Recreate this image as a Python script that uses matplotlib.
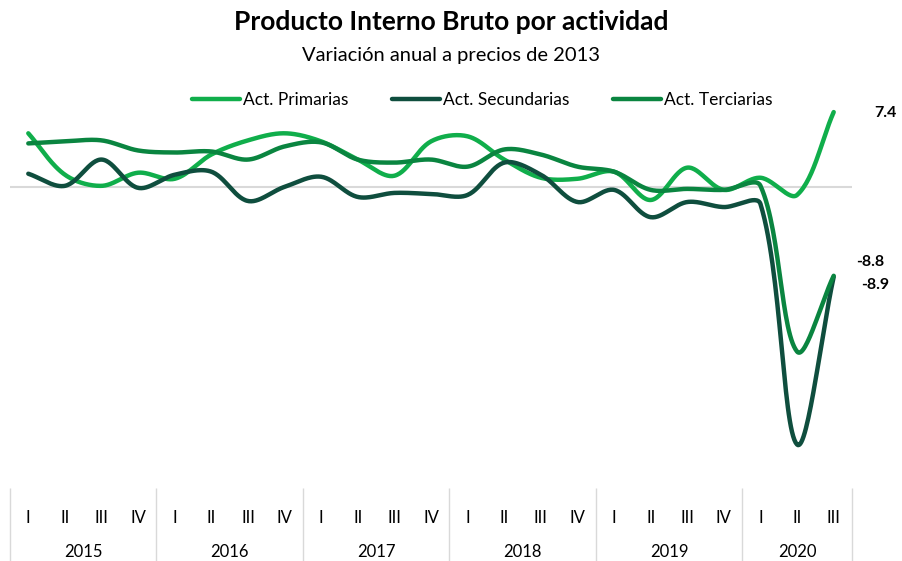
"""PIB por actividad: variación anual a precios de 2013 (2015 - 2020)."""

import matplotlib

matplotlib.use("Agg")
import matplotlib.pyplot as plt
import numpy as np

YEARS = ["2015", "2016", "2017", "2018", "2019", "2020"]
QUARTERS = ["I", "II", "III", "IV"] * 5 + ["I", "II", "III"]

primarias = [5.3, 1.2, 0.1, 1.4, 0.8, 3.2, 4.6, 5.3, 4.5, 2.7, 1.1, 4.5,
             5.0, 2.7, 0.9, 0.8, 1.5, -1.3, 1.9, -0.3, 0.9, -0.8, 7.4]
secundarias = [1.3, 0.1, 2.7, -0.1, 1.2, 1.5, -1.4, 0.0, 1.0, -1.0, -0.6, -0.7,
               -0.8, 2.4, 1.2, -1.5, -0.3, -3.0, -1.5, -2.0, -1.7, -25.5, -8.9]
terciarias = [4.3, 4.5, 4.6, 3.6, 3.4, 3.5, 2.7, 4.0, 4.4, 2.7, 2.4, 2.7,
              2.0, 3.7, 3.2, 2.0, 1.5, -0.3, -0.2, -0.3, 0.1, -16.3, -8.8]

COLORS = {
    "primarias": "#10AE4B",
    "secundarias": "#0F4E3E",
    "terciarias": "#0A8540",
    "grid": "#D9D9D9",
}

# pixel size of one quarter / one percentage point, used only to shape the curves
X_PX, Y_PX = 36.6, 10.1

plt.rcParams["font.family"] = ["Lato", "DejaVu Sans"]


def smooth(y, n=30):
    """Excel-like smoothed line: Bezier through every point, tangents scaled by chord length."""
    pts = np.column_stack([np.arange(len(y), dtype=float) * X_PX,
                           np.asarray(y, float) * Y_PX])
    ext = np.vstack([pts[0], pts, pts[-1]])
    t = np.linspace(0, 1, n, endpoint=False)[:, None]
    out = []
    for i in range(len(pts) - 1):
        p0, p1, p2, p3 = ext[i], ext[i + 1], ext[i + 2], ext[i + 3]
        d01 = np.hypot(*(p1 - p0))
        d12 = np.hypot(*(p2 - p1))
        d23 = np.hypot(*(p3 - p2))
        c1 = p1 + (p2 - p0) / 3 * d12 / (d01 + d12)
        c2 = p2 - (p3 - p1) / 3 * d12 / (d12 + d23)
        out.append((1 - t) ** 3 * p1 + 3 * (1 - t) ** 2 * t * c1
                   + 3 * (1 - t) * t ** 2 * c2 + t ** 3 * p2)
    out.append(pts[-1:])
    seg = np.vstack(out)
    return seg[:, 0] / X_PX, seg[:, 1] / Y_PX


fig = plt.figure(figsize=(9.02, 5.61), dpi=100)
ax = fig.add_axes([10 / 902, 1 - 488 / 561, 842 / 902, 383 / 561])

ax.axhline(0, color=COLORS["grid"], linewidth=1.5, zorder=1)

series = [
    ("Act. Primarias", primarias, COLORS["primarias"]),
    ("Act. Secundarias", secundarias, COLORS["secundarias"]),
    ("Act. Terciarias", terciarias, COLORS["terciarias"]),
]
for i, (name, vals, color) in enumerate(series):
    xs, ys = smooth(vals)
    ax.plot(xs, ys, color=color, linewidth=3.2, solid_capstyle="round",
            label=name, zorder=2 + i)

n = len(QUARTERS)
ax.set_xlim(-0.5, n - 0.5)
ax.set_ylim(-29.8, 8.1)
for s in ax.spines.values():
    s.set_visible(False)
ax.set_yticks([])
ax.set_xticks(range(n))
ax.set_xticklabels(QUARTERS, fontsize=12)
ax.tick_params(axis="x", length=0, pad=15.5)

# Year row with separators
bounds = [-0.5, 3.5, 7.5, 11.5, 15.5, 19.5, n - 0.5]
centers = [(a + b) / 2 for a, b in zip(bounds[:-1], bounds[1:])]
sec = ax.secondary_xaxis("bottom")
sec.spines["bottom"].set_visible(False)
sec.set_xticks(bounds)
sec.set_xticklabels([""] * len(bounds))
sec.tick_params(axis="x", which="major", length=54, width=1, color=COLORS["grid"])
sec.set_xticks(centers, minor=True)
sec.set_xticklabels(YEARS, minor=True, fontsize=12)
sec.tick_params(axis="x", which="minor", length=0, pad=40.5)

# End labels
ax.annotate(f"{primarias[-1]:.1f}", xy=(n - 1, primarias[-1]), xytext=(37, -1),
            textcoords="offset points", ha="center", va="center",
            fontsize=11.5, fontweight="bold")
ax.annotate(f"{terciarias[-1]:.1f}", xy=(n - 1, terciarias[-1]), xytext=(26, 10),
            textcoords="offset points", ha="center", va="center",
            fontsize=11.5, fontweight="bold")
ax.annotate(f"{secundarias[-1]:.1f}", xy=(n - 1, secundarias[-1]), xytext=(30, -6),
            textcoords="offset points", ha="center", va="center",
            fontsize=11.5, fontweight="bold")

ax.legend(loc="center", bbox_to_anchor=(482 / 902, 1 - 100 / 561),
          bbox_transform=fig.transFigure, ncol=3, frameon=False, fontsize=12.5,
          handlelength=2.8, handletextpad=0.15, columnspacing=2.5)

fig.text(0.5, 1 - 22 / 561, "Producto Interno Bruto por actividad",
         ha="center", va="center", fontsize=19, fontweight="bold")
fig.text(0.5, 1 - 55 / 561, "Variación anual a precios de 2013",
         ha="center", va="center", fontsize=14.5)

fig.savefig("out.png", dpi=100)
